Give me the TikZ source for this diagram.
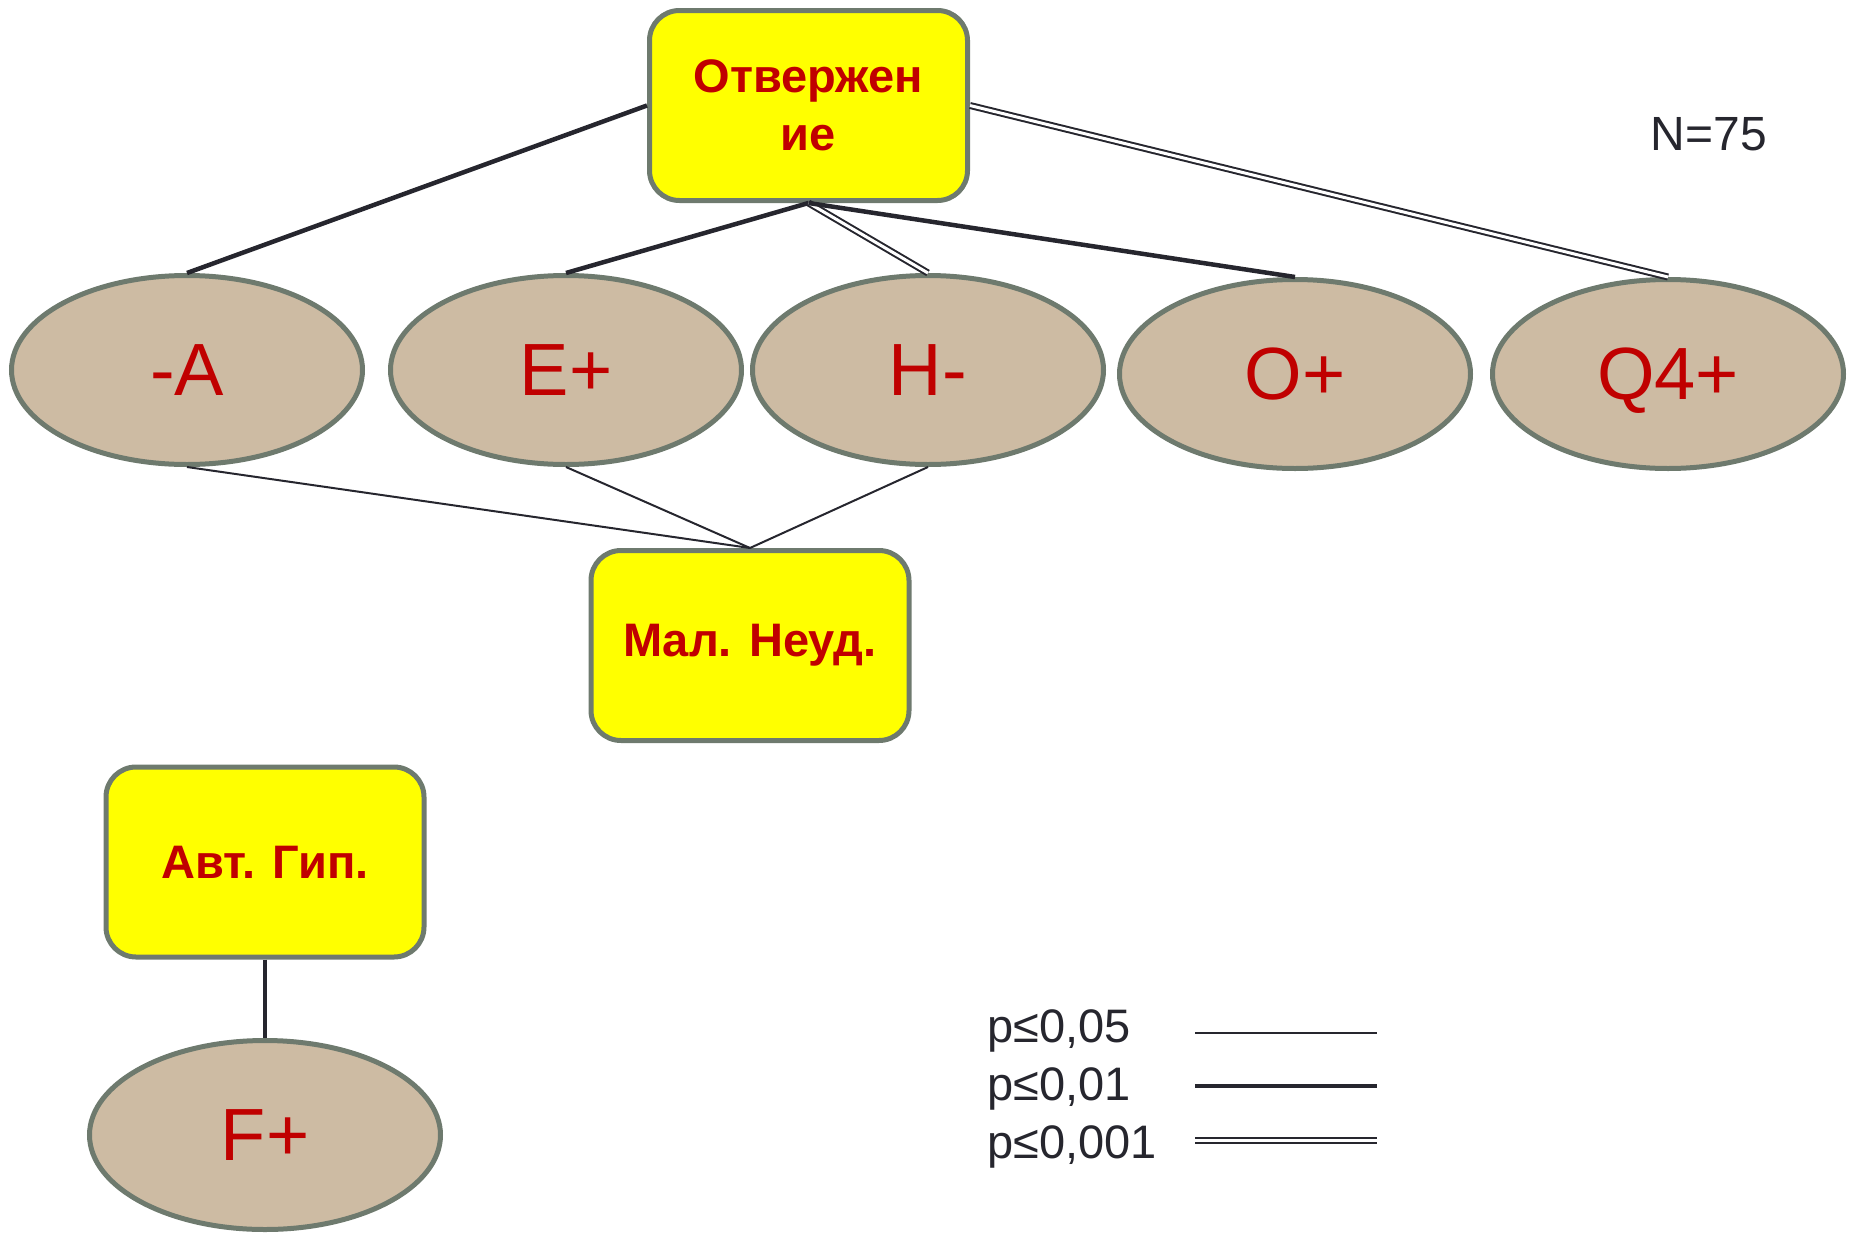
\documentclass[tikz,border=0pt]{standalone}
\usepackage{fontspec}
\setmainfont{Liberation Sans}
\usetikzlibrary{shapes.geometric}
\definecolor{bordergray}{HTML}{6E7A6E}
\definecolor{tan}{HTML}{CDBBA3}
\definecolor{txtred}{HTML}{C00000}
\definecolor{linedark}{HTML}{26262E}
\definecolor{yel}{HTML}{FFFF00}
\begin{document}
\begin{tikzpicture}[x=1pt,y=-1pt,
  ybox/.style={draw=bordergray,line width=5pt,fill=yel,rounded corners=30pt,
    minimum width=318pt,minimum height=190pt,text=txtred,align=center,
    font=\fontsize{47}{58}\selectfont\bfseries,inner sep=0pt},
  tell/.style={ellipse,draw=bordergray,line width=5pt,fill=tan,
    minimum width=351pt,minimum height=189pt,text=txtred,text depth=0pt,
    font=\fontsize{74}{80}\selectfont,inner sep=0pt},
  pthin/.style={draw=linedark,line width=2pt},
  pthick/.style={draw=linedark,line width=4.5pt},
  pdouble/.style={draw=linedark,line width=2pt,double=white,double distance=3pt},
  legtxt/.style={text=linedark,font=\fontsize{47}{50}\selectfont,anchor=west,inner sep=0pt}
]
\useasboundingbox (0,0) rectangle (1856,1234);

\node[tell] (A) at (187,370) {-A};
\node[tell] (E) at (566,370) {E+};
\node[tell] (H) at (928,370) {H-};
\node[tell] (O) at (1295,374) {O+};
\node[tell] (Q) at (1668,374) {Q4+};
\node[tell] (F) at (265,1135) {F+};

\node[ybox] (top) at (808.5,105.5) {Отвержен\\ие};
\node[ybox] (mal) at (750,645.5) {Мал. Неуд.};
\node[ybox] (avt) at (265,862) {Авт. Гип.};

\draw[pthick] (top.west) -- (A.north);
\draw[pthick] (top.south) -- (E.north);
\draw[pdouble] (top.south) -- (H.north);
\draw[pthick] (top.south) -- (O.north);
\draw[pdouble] (top.east) -- (Q.north);
\draw[pthin] (A.south) -- (mal.north);
\draw[pthin] (E.south) -- (mal.north);
\draw[pthin] (H.south) -- (mal.north);
\draw[pthick] (avt.south) -- (F.north);

\node[text=linedark,font=\fontsize{48}{52}\selectfont,inner sep=0pt] (n) at (1709,134) {N=75};

\node[legtxt] (l1) at (987,1031) {p≤0,05};
\node[legtxt] (l2) at (987,1089) {p≤0,01};
\node[legtxt] (l3) at (987,1147) {p≤0,001};
\coordinate (a1) at (1195,1033); \coordinate (b1) at (1377,1033);
\coordinate (a2) at (1195,1086); \coordinate (b2) at (1377,1086);
\coordinate (a3) at (1195,1140); \coordinate (b3) at (1377,1140);
\draw[pthin] (a1) -- (b1);
\draw[pthick] (a2) -- (b2);
\draw[pdouble] (a3) -- (b3);
\end{tikzpicture}
\end{document}
